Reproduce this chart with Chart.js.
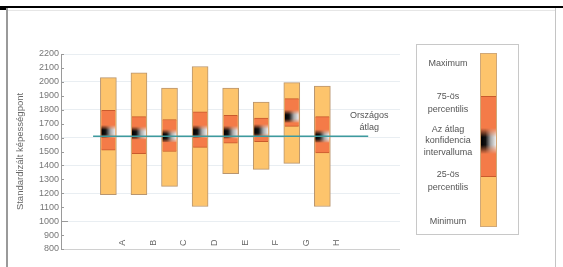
<!DOCTYPE html>
<html><head><meta charset="utf-8">
<script src="https://cdn.jsdelivr.net/npm/chart.js@4"></script>
<style>
body{margin:0;background:#fff;}
#wrap{position:relative;width:563px;height:267px;overflow:hidden;background:#fff;font-family:"Liberation Sans",Arial,sans-serif;}
canvas{position:absolute;left:0;top:0;}
.ln{position:absolute;}
.lg{position:absolute;left:417px;width:62px;text-align:center;font-size:9px;color:#555;line-height:10px;white-space:nowrap;}
.lb{position:absolute;left:480px;width:17px;}
</style></head><body>
<div id="wrap">
<canvas id="c" width="563" height="267"></canvas>
<div class="ln" style="left:0;top:6px;width:563px;height:2px;background:#000"></div>
<div class="ln" style="left:0;top:7px;width:6px;height:3px;background:#000"></div>
<div class="ln" style="left:6px;top:8px;width:2px;height:259px;background:#9a9a9a"></div>
<div class="ln" style="left:8px;top:10px;width:547px;height:1px;background:#e6e6e6"></div>
<div class="ln" style="left:555px;top:8px;width:1px;height:259px;background:#c4c4c4"></div>
<!-- legend -->
<div class="ln" style="left:416px;top:44px;width:101px;height:189px;border:1px solid #c8c8c8"></div>
<div class="lb" style="top:53px;height:174px;background:#fdc46c;border:1px solid #d0a878;box-sizing:border-box"></div>
<div class="lb" style="top:96px;height:81px;left:481px;width:15px;background:#f47b48;border-top:1px solid #c95a2c;border-bottom:1px solid #c95a2c;box-sizing:border-box"></div>
<div class="lb" style="top:128px;height:26px;left:481px;width:15px;background:linear-gradient(90deg,#000 0%,#111 30%,#a8a8a8 65%,#f0f0f0 100%);-webkit-mask-image:linear-gradient(180deg,transparent 0%,#000 35%,#000 65%,transparent 100%);mask-image:linear-gradient(180deg,transparent 0%,#000 35%,#000 65%,transparent 100%)"></div>
<div class="lg" style="top:58px">Maximum</div>
<div class="lg" style="top:91px">75-ös</div>
<div class="lg" style="top:104px">percentilis</div>
<div class="lg" style="top:124px">Az átlag</div>
<div class="lg" style="top:135px">konfidencia</div>
<div class="lg" style="top:147px">intervalluma</div>
<div class="lg" style="top:169px">25-ös</div>
<div class="lg" style="top:182px">percentilis</div>
<div class="lg" style="top:216px">Minimum</div>
</div>
<script>
const categories = ['A','B','C','D','E','F','G','H'];
const positions  = [1, 2, 3, 4, 5, 6, 7, 8];
const maxValues  = [2030, 2065, 1955, 2110, 1955, 1855, 1995, 1970];
const p75Values  = [1795, 1750, 1730, 1785, 1760, 1740, 1880, 1750];
const ciHigh     = [1690, 1680, 1660, 1690, 1685, 1697, 1800, 1657];
const ciLow      = [1600, 1590, 1570, 1600, 1595, 1607, 1710, 1567];
const p25Values  = [1510, 1485, 1500, 1530, 1560, 1570, 1680, 1490];
const minValues  = [1190, 1190, 1250, 1105, 1340, 1372, 1415, 1105];
const nationalAverage = 1610;
const nationalLabel = ['Országos', 'átlag'];
const yTickValues = [800,900,1000,1100,1200,1300,1400,1500,1600,1700,1800,1900,2000,2100,2200];
const yTitle = 'Standardizált képességpont';

function ciFill(context){
  const chart = context.chart;
  const i = context.dataIndex;
  const xs = chart.scales.x, ys = chart.scales.y;
  if (!xs || !ys || i === undefined) return '#222';
  const w = 14;
  const cx = xs.getPixelForValue(positions[i]);
  const top = ys.getPixelForValue(ciHigh[i]);
  const bot = ys.getPixelForValue(ciLow[i]);
  if (!isFinite(cx) || !isFinite(top) || !isFinite(bot)) return '#222';
  const h = Math.max(2, Math.ceil(bot - top) + 1);
  const off = document.createElement('canvas');
  off.width = w; off.height = h;
  const g = off.getContext('2d');
  const hg = g.createLinearGradient(0,0,w,0);
  hg.addColorStop(0,'#000'); hg.addColorStop(0.3,'#111'); hg.addColorStop(0.65,'#a8a8a8'); hg.addColorStop(1,'#f0f0f0');
  g.fillStyle = hg; g.fillRect(0,0,w,h);
  g.globalCompositeOperation = 'destination-in';
  const vg = g.createLinearGradient(0,0,0,h);
  vg.addColorStop(0,'rgba(0,0,0,0)'); vg.addColorStop(0.35,'rgba(0,0,0,1)');
  vg.addColorStop(0.65,'rgba(0,0,0,1)'); vg.addColorStop(1,'rgba(0,0,0,0)');
  g.fillStyle = vg; g.fillRect(0,0,w,h);
  const p = chart.ctx.createPattern(off,'no-repeat');
  p.setTransform(new DOMMatrix([1,0,0,1,cx - w/2, top]));
  return p;
}

const decor = {
  id:'decor',
  afterDatasetsDraw(chart){
    const {ctx, scales:{x,y}} = chart;
    ctx.save();
    ctx.strokeStyle = '#9a9a9a'; ctx.lineWidth = 1;
    const left = chart.chartArea.left;
    yTickValues.forEach(v=>{
      const py = Math.round(y.getPixelForValue(v)) + 0.5;
      ctx.beginPath(); ctx.moveTo(left, py); ctx.lineTo(left + (v===1000?7:3), py); ctx.stroke();
    });
    ctx.font = '9px "Liberation Sans", Arial, sans-serif';
    ctx.fillStyle = '#666'; ctx.textAlign = 'center'; ctx.textBaseline = 'middle';
    categories.forEach((c,i)=>{
      const px = x.getPixelForValue(positions[i] + 0.47);
      const py = y.getPixelForValue(845);
      ctx.save(); ctx.translate(px, py); ctx.rotate(-Math.PI/2); ctx.fillText(c,0,0); ctx.restore();
    });
    ctx.fillStyle = '#555';
    const lx = x.getPixelForValue(9.5) + 1;
    const ly = y.getPixelForValue(nationalAverage);
    ctx.fillText(nationalLabel[0], lx, ly - 21);
    ctx.fillText(nationalLabel[1], lx, ly - 9);
    ctx.restore();
  }
};

new Chart(document.getElementById('c'), {
  type:'bar',
  data:{
    datasets:[
      {type:'line', label:'Országos átlag', data:[{x:0.5,y:nationalAverage},{x:9.5,y:nationalAverage}],
        borderColor:'#3d9a9e', borderWidth:1.5, pointRadius:0, order:0},
      {label:'CI', data: positions.map((p,i)=>({x:p, y:[ciLow[i], ciHigh[i]]})),
        backgroundColor: ciFill, borderWidth:0, barThickness:14, grouped:false, order:1},
      {label:'IQR', data: positions.map((p,i)=>({x:p, y:[p25Values[i], p75Values[i]]})),
        backgroundColor:'#f47b48', borderColor:'#c95a2c', borderWidth:{top:1,bottom:1,left:0,right:0},
        borderSkipped:false, barThickness:14, grouped:false, order:2},
      {label:'Range', data: positions.map((p,i)=>({x:p, y:[minValues[i], maxValues[i]]})),
        backgroundColor:'#fdc46c', borderColor:'#b8956f', borderWidth:1, borderSkipped:false,
        barThickness:16, grouped:false, order:3}
    ]
  },
  options:{
    responsive:false, animation:false, devicePixelRatio:1,
    layout:{padding:{left:0, top:54, right:163, bottom:18}},
    plugins:{legend:{display:false}, tooltip:{enabled:false}},
    scales:{
      x:{type:'linear', min:-0.55, max:10.54, offset:false, display:false},
      y:{type:'linear', min:800, max:2200,
        afterFit(s){ s.width = 61; },
        ticks:{stepSize:100, padding:2, color:'#777', callback: v => String(v),
          font:{family:'"Liberation Sans", Arial, sans-serif', size:9}},
        grid:{drawTicks:false, color: c => (c.tick && c.tick.value % 200 === 0) ? (c.tick.value===800 ? '#d0d0d0' : '#e9eef2') : 'rgba(0,0,0,0)'},
        border:{display:true, color:'#9a9a9a', width:1},
        title:{display:true, text:yTitle, color:'#666', padding:{top:14.3,bottom:0},
          font:{family:'"Liberation Sans", Arial, sans-serif', size:9.5}}
      }
    }
  },
  plugins:[decor]
});
</script>
</body></html>
